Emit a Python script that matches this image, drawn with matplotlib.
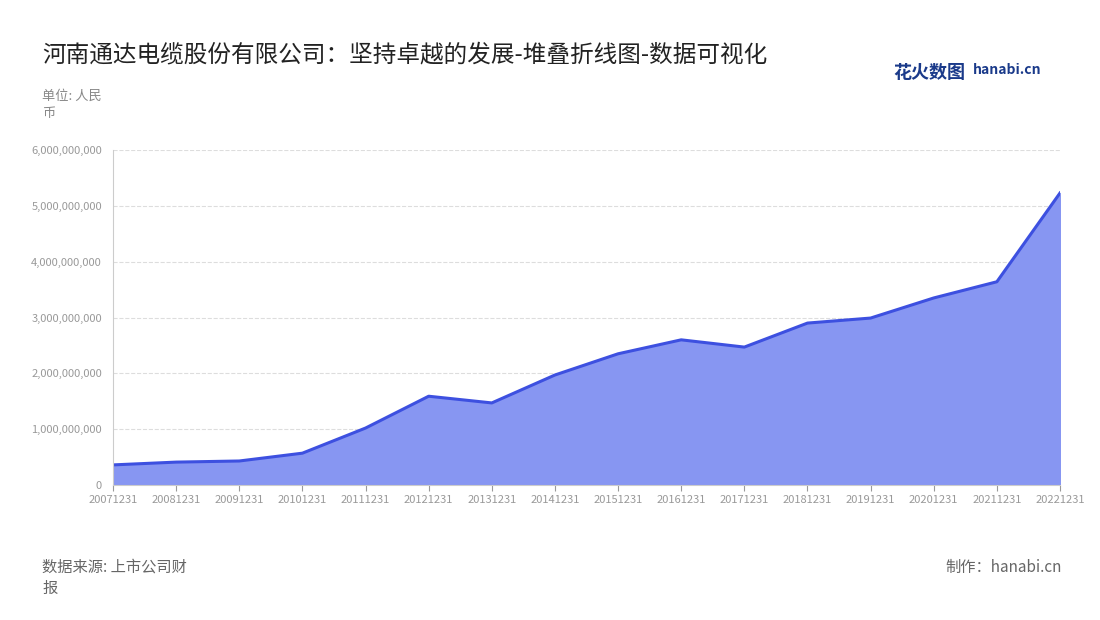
import matplotlib
matplotlib.use("Agg")
import matplotlib.pyplot as plt
from matplotlib.ticker import FuncFormatter

plt.rcParams['font.family'] = ['Noto Sans CJK SC', 'DejaVu Sans']

years = ["20071231","20081231","20091231","20101231","20111231","20121231","20131231","20141231",
         "20151231","20161231","20171231","20181231","20191231","20201231","20211231","20221231"]
values = [0.36e9,0.41e9,0.43e9,0.57e9,1.02e9,1.59e9,1.47e9,1.97e9,
          2.35e9,2.60e9,2.47e9,2.90e9,2.99e9,3.35e9,3.64e9,5.23e9]

fig = plt.figure(figsize=(11, 6.2), dpi=100)
ax = fig.add_axes([113/1100, 1-485/620, (1060-113)/1100, (485-150)/620])
x = list(range(len(years)))
ax.fill_between(x, values, 0, color='#8796f2', alpha=1)
ax.plot(x, values, color='#3d50e0', lw=2.2)
ax.set_xlim(0, len(years)-1)
ax.set_ylim(0, 6e9)
ax.set_yticks([i*1e9 for i in range(7)])
ax.yaxis.set_major_formatter(FuncFormatter(lambda v, p: f"{int(v):,}"))
ax.set_xticks(x)
ax.set_xticklabels(years)
ax.tick_params(axis='both', labelsize=8, colors='#999999', length=4)
ax.tick_params(axis='y', length=0, pad=8)
ax.grid(axis='y', ls='--', color='#dddddd', lw=0.8)
ax.set_axisbelow(True)
for s in ['top', 'right']:
    ax.spines[s].set_visible(False)
ax.spines['left'].set_color('#cccccc')
ax.spines['bottom'].set_color('#cccccc')

fig.text(42/1100, 1-55/620, "河南通达电缆股份有限公司：坚持卓越的发展-堆叠折线图-数据可视化", fontsize=17, color='#222222', va='center')
fig.text(42/1100, 1-96/620, "单位: 人民", fontsize=9.5, color='#888888', va='center')
fig.text(42/1100, 1-113/620, "币", fontsize=9.5, color='#888888', va='center')
fig.text(42/1100, 1-567/620, "数据来源: 上市公司财", fontsize=11, color='#666666', va='center')
fig.text(42/1100, 1-588/620, "报", fontsize=11, color='#666666', va='center')
fig.text(1062/1100, 1-567/620, "制作：hanabi.cn", fontsize=11, color='#666666', va='center', ha='right')
fig.text(893/1100, 1-72/620, "花火数图", fontsize=13, color='#1a3a8a', va='center', fontweight='bold')
fig.text(973/1100, 1-70/620, "hanabi.cn", fontsize=10, color='#1a3a8a', va='center', fontweight='bold')
fig.savefig("out.png", dpi=100)
